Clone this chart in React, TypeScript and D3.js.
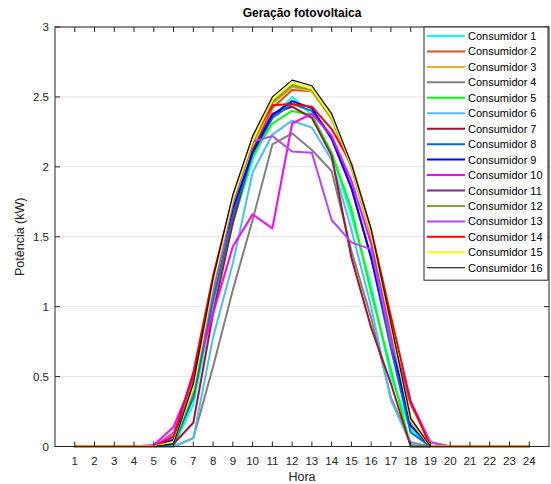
import React from 'react';
import * as d3 from 'd3';

const hours = d3.range(1, 25);
const yTicks = [0, 0.5, 1, 1.5, 2, 2.5, 3];
const names = d3.range(1, 17).map(i => `Consumidor ${i}`);
const colors = [
    '#00FFFF', '#D95319', '#EDB120', '#808080', '#00FF00', '#4DBEEE', '#A2142F', '#0072BD',
    '#0000FF', '#FF00FF', '#7E2F8E', '#77AC30', '#B746FF', '#FF0000', '#FFFF00', '#000000'
];

const c1 = [0, 0, 0, 0, 0, 0, 0.30, 1.00, 1.60, 2.05, 2.35, 2.50, 2.37, 2.10, 1.65, 1.15, 0.50, 0.12, 0, 0, 0, 0, 0, 0];
const c2 = [0, 0, 0, 0, 0, 0.08, 0.35, 1.05, 1.65, 2.12, 2.42, 2.55, 2.54, 2.35, 2.00, 1.50, 0.85, 0.20, 0, 0, 0, 0, 0, 0];
const c3 = [0, 0, 0, 0, 0, 0.03, 0.38, 1.12, 1.72, 2.16, 2.45, 2.57, 2.54, 2.34, 1.99, 1.51, 0.86, 0.18, 0, 0, 0, 0, 0, 0];
const c4 = [0, 0, 0, 0, 0, 0, 0.06, 0.57, 1.12, 1.62, 2.16, 2.24, 2.12, 1.97, 1.40, 0.92, 0.35, 0.03, 0, 0, 0, 0, 0, 0];
const c5 = [0, 0, 0, 0, 0, 0.01, 0.35, 1.05, 1.60, 2.08, 2.31, 2.40, 2.37, 2.10, 1.70, 1.10, 0.55, 0, 0, 0, 0, 0, 0, 0];
const c6 = [0, 0, 0, 0, 0, 0, 0.06, 0.78, 1.31, 1.96, 2.23, 2.33, 2.28, 2.05, 1.55, 1.00, 0.33, 0.02, 0, 0, 0, 0, 0, 0];
const c7 = [0, 0, 0, 0, 0, 0.02, 0.17, 0.95, 1.60, 2.12, 2.38, 2.43, 2.35, 2.08, 1.35, 0.85, 0.45, 0, 0, 0, 0, 0, 0, 0];
const c8 = [0, 0, 0, 0, 0, 0.02, 0.35, 1.05, 1.65, 2.10, 2.35, 2.45, 2.40, 2.22, 1.85, 1.35, 0.70, 0.10, 0, 0, 0, 0, 0, 0];
const c9 = [0, 0, 0, 0, 0, 0.05, 0.50, 1.15, 1.70, 2.10, 2.37, 2.47, 2.42, 2.20, 1.85, 1.35, 0.76, 0.15, 0, 0, 0, 0, 0, 0];
const c10 = [0, 0, 0, 0, 0.01, 0.14, 0.48, 0.95, 1.43, 1.66, 1.56, 2.31, 2.38, 2.22, 1.90, 1.45, 0.80, 0.32, 0.03, 0, 0, 0, 0, 0];
const c11 = [0, 0, 0, 0, 0, 0.02, 0.40, 1.15, 1.75, 2.18, 2.47, 2.59, 2.56, 2.36, 2.01, 1.53, 0.87, 0.19, 0, 0, 0, 0, 0, 0];
const c12 = [0, 0, 0, 0, 0, 0.03, 0.40, 1.14, 1.74, 2.17, 2.46, 2.58, 2.55, 2.35, 2.00, 1.52, 0.86, 0.18, 0, 0, 0, 0, 0, 0];
const c13 = [0, 0, 0, 0, 0, 0.10, 0.45, 1.10, 1.75, 2.18, 2.22, 2.11, 2.10, 1.62, 1.46, 1.41, 0.75, 0.30, 0.03, 0, 0, 0, 0, 0];
const c14 = [0, 0, 0, 0, 0, 0.07, 0.53, 1.22, 1.78, 2.20, 2.44, 2.45, 2.43, 2.27, 2.02, 1.55, 0.93, 0.32, 0, 0, 0, 0, 0, 0];
const c15 = [0, 0, 0, 0, 0, 0.03, 0.42, 1.17, 1.77, 2.19, 2.48, 2.60, 2.56, 2.36, 2.01, 1.53, 0.86, 0.19, 0, 0, 0, 0, 0, 0];
const c16 = [0, 0, 0, 0, 0, 0.02, 0.45, 1.20, 1.80, 2.22, 2.50, 2.62, 2.58, 2.38, 2.02, 1.55, 0.88, 0.20, 0, 0, 0, 0, 0, 0];
const series = [c1, c2, c3, c4, c5, c6, c7, c8, c9, c10, c11, c12, c13, c14, c15, c16];

const W = 551, H = 484;
const left = 55, right = 549, top = 27, bottom = 446.5;
const font = '"Liberation Sans", Arial, sans-serif';
const axisColor = '#262626';

export default function App() {
    const x = d3.scaleLinear().domain([0, 25]).range([left, right]);
    const y = d3.scaleLinear().domain([0, 3]).range([bottom, top]);
    const line = d3.line<number>()
        .x((_, i) => x(hours[i]))
        .y(d => y(d));

    const legendX = 424, legendY = 27, legendW = 124, rowH = 15.45;
    const legendH = rowH * names.length + 6;

    return (
        <svg width={W} height={H} style={{ position: 'absolute', left: 0, top: 0, fontFamily: font }}>
            <rect x={0} y={0} width={W} height={H} fill="#fff" />
            {/* grid */}
            {yTicks.map(t => (
                <line key={'g' + t} x1={left} x2={right} y1={y(t)} y2={y(t)} stroke="#e5e5e5" strokeWidth={1} />
            ))}
            {/* series */}
            {series.map((s, i) => (
                <path key={i} d={line(s) || ''} fill="none" stroke={colors[i]}
                    strokeWidth={i === 15 ? 1.2 : 2} strokeLinejoin="round" />
            ))}
            {/* axes box */}
            <rect x={left} y={top} width={right - left} height={bottom - top} fill="none" stroke={axisColor} strokeWidth={1} />
            {hours.map(h => (
                <g key={'xt' + h}>
                    <line x1={x(h)} x2={x(h)} y1={bottom} y2={bottom - 5} stroke={axisColor} />
                    <line x1={x(h)} x2={x(h)} y1={top} y2={top + 5} stroke={axisColor} />
                    <text x={x(h)} y={bottom + 18} textAnchor="middle" fontSize={11.5} fill={axisColor}>{h}</text>
                </g>
            ))}
            {yTicks.map(t => (
                <g key={'yt' + t}>
                    <line x1={left} x2={left + 5} y1={y(t)} y2={y(t)} stroke={axisColor} />
                    <line x1={right} x2={right - 5} y1={y(t)} y2={y(t)} stroke={axisColor} />
                    <text x={left - 6} y={y(t) + 4} textAnchor="end" fontSize={11.5} fill={axisColor}>{t}</text>
                </g>
            ))}
            {/* labels */}
            <text x={(left + right) / 2} y={17} textAnchor="middle" fontSize={12} fontWeight="bold" fill="#000">Geração fotovoltaica</text>
            <text x={(left + right) / 2} y={481} textAnchor="middle" fontSize={12.5} fill={axisColor}>Hora</text>
            <text transform={`translate(24,${(top + bottom) / 2}) rotate(-90)`} textAnchor="middle" fontSize={12.5} fill={axisColor}>Potência (kW)</text>
            {/* legend */}
            <rect x={legendX} y={legendY} width={legendW} height={legendH} fill="#fff" stroke={axisColor} strokeWidth={1} />
            {names.map((n, i) => {
                const ly = legendY + 9 + i * rowH;
                return (
                    <g key={'l' + i}>
                        <line x1={legendX + 3} x2={legendX + 41} y1={ly} y2={ly} stroke={colors[i]} strokeWidth={i === 15 ? 1.2 : 2} />
                        <text x={legendX + 44} y={ly + 4} fontSize={11} fill="#000">{n}</text>
                    </g>
                );
            })}
        </svg>
    );
}
